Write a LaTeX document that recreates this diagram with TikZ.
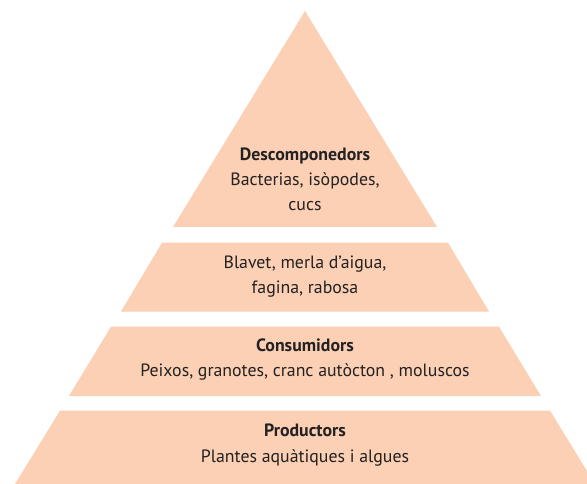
\documentclass[tikz,border=0pt]{standalone}
\usepackage{fontspec}
\setmainfont{PT Sans}
\definecolor{peach}{RGB}{251,208,180}
\definecolor{ink}{RGB}{35,33,33}
\tikzset{
    level/.style={fill=peach},
    title/.style={anchor=base,inner sep=0pt,text=ink,font=\fontsize{17.8}{20}\selectfont\bfseries},
    members/.style={anchor=base,inner sep=0pt,text=ink,font=\fontsize{17.8}{20}\selectfont}
}
\begin{document}
\begin{tikzpicture}[x=1pt,y=-1pt]
            \useasboundingbox (0,0) rectangle (587,484);

            \fill[level] (305,11) -- (437,227) -- (173,227) -- cycle;
            \fill[level] (162,242.7) -- (448,242.7) -- (489,311.5) -- (121,311.5) -- cycle;
            \fill[level] (111,326.7) -- (499,326.7) -- (541,396) -- (69,396) -- cycle;
            \fill[level] (60,410.7) -- (550,410.7) -- (595,484) -- (15,484) -- cycle;

            \node[title] (desc) at (305,160.7) {Descomponedors};
            \node[members] (desc1) at (305,186) {Bacterias, isòpodes,};
            \node[members] (desc2) at (305,211) {cucs};

            \node[members] (top1) at (305,268.3) {Blavet, merla d’aigua,};
            \node[members] (top2) at (305,293.3) {fagina, rabosa};

            \node[title] (cons) at (305,351.7) {Consumidors};
            \node[members] (cons1) at (305,376.7) {Peixos, granotes, cranc autòcton , moluscos};

            \node[title] (prod) at (305,436.7) {Productors};
            \node[members] (prod1) at (305,462.3) {Plantes aquàtiques i algues};

        \end{tikzpicture}
\end{document}
